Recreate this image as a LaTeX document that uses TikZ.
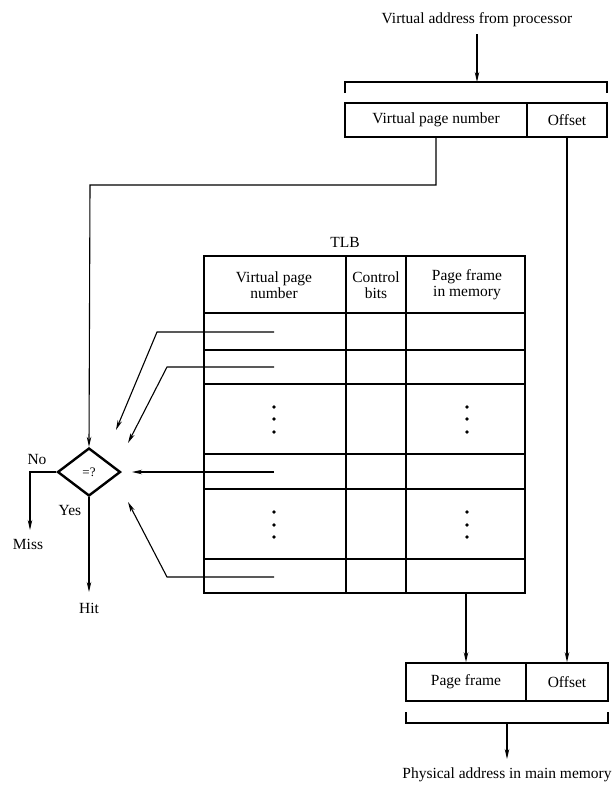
\documentclass[tikz,border=0pt]{standalone}
\usepackage{fontspec}
\setmainfont{Liberation Serif}
\usetikzlibrary{shapes.geometric,arrows.meta}
\begin{document}
\begin{tikzpicture}[x=1pt,y=-1pt,
  font=\fontsize{15.5}{16}\selectfont,
  arr/.style={-{Stealth[length=10pt,width=4.5pt]}, line width=1.1pt},
  fieldbox/.style={draw, line width=1.6pt, minimum height=38pt, inner sep=0pt},
  gridline/.style={line width=1.6pt},
  lbl/.style={inner sep=1pt},
  dot/.style={circle, fill, inner sep=0pt, minimum size=3.8pt}]
\useasboundingbox (0,0) rectangle (612,793);

% top: virtual address
\node[lbl] (vaddr) at (477,20) {Virtual address from processor};
\coordinate (brtop) at (477,82);
\draw[arr] (vaddr.south) ++(0,6) -- (brtop);
\draw[line width=1.1pt] (345,93) -- (345,82) -- (607,82) -- (607,93);
\node[fieldbox, minimum width=182pt, minimum height=34pt] (vpn) at (436,120) {Virtual page number};
\node[fieldbox, minimum width=80pt, minimum height=34pt] (off) at (567,120) {Offset};

% TLB
\node[lbl] (tlbl) at (345,242) {TLB};
\node[draw, line width=1.6pt, minimum width=321pt, minimum height=337pt, inner sep=0pt] (tlb) at (364.5,424.5) {};
\foreach \yy in {313,350,384,454,489,559}
  \draw[gridline] (204,\yy) -- (525,\yy);
\draw[gridline] (346,256) -- (346,593);
\draw[gridline] (406,256) -- (406,593);
\node[align=center, lbl] (h1) at (274,285) {Virtual page\\number};
\node[align=center, lbl] (h2) at (376,285) {Control\\bits};
\node[align=center, lbl] (h3) at (467,285) {Page frame\\in memory};
\foreach \xx in {274,467}
  \foreach \yy in {407,419,432,512,525,537}
    \node[dot] at (\xx,\yy) {};

% row key ends
\coordinate (k1) at (274,332);
\coordinate (k2) at (274,367);
\coordinate (k3) at (274,472);
\coordinate (k4) at (274,577);
\coordinate (pfout) at (466,593);

% comparator
\node[diamond, draw, line width=2.4pt, minimum width=63pt, minimum height=48pt, inner sep=0pt, font=\fontsize{13}{14}\selectfont] (cmp) at (89,472) {=?};
\draw[arr] (vpn.south) |- (90,185) -- (cmp.north);
\draw[arr] (k1) -- (157,332) -- (116,430);
\draw[arr] (k2) -- (167,367) -- (128,443);
\draw[arr] (k3) -- (132,472);
\draw[arr] (k4) -- (167,577) -- (128,502);

\coordinate (miss) at (30,530);
\coordinate (hit) at (89,592);
\draw[arr] (cmp.west) -| (miss);
\draw[arr] (cmp.south) -- (hit);
\node[lbl] (no) at (37,459) {No};
\node[lbl] (yes) at (70,510) {Yes};
\node[lbl] (misst) at (28,544) {Miss};
\node[lbl] (hitt) at (89,608) {Hit};

% physical address
\node[fieldbox, minimum width=120pt] (pf) at (466,682) {Page frame};
\node[fieldbox, minimum width=82pt] (poff) at (567,682) {Offset};
\draw[arr] (pfout) -- (pf.north);
\draw[arr] (off.south) -- (poff.north);
\draw[line width=1.1pt] (406,712) -- (406,723) -- (608,723) -- (608,712);
\coordinate (brbot) at (507,723);
\node[lbl] (paddr) at (507,775) {Physical address in main memory};
\draw[arr] (brbot) -- (507,759);
\end{tikzpicture}
\end{document}
